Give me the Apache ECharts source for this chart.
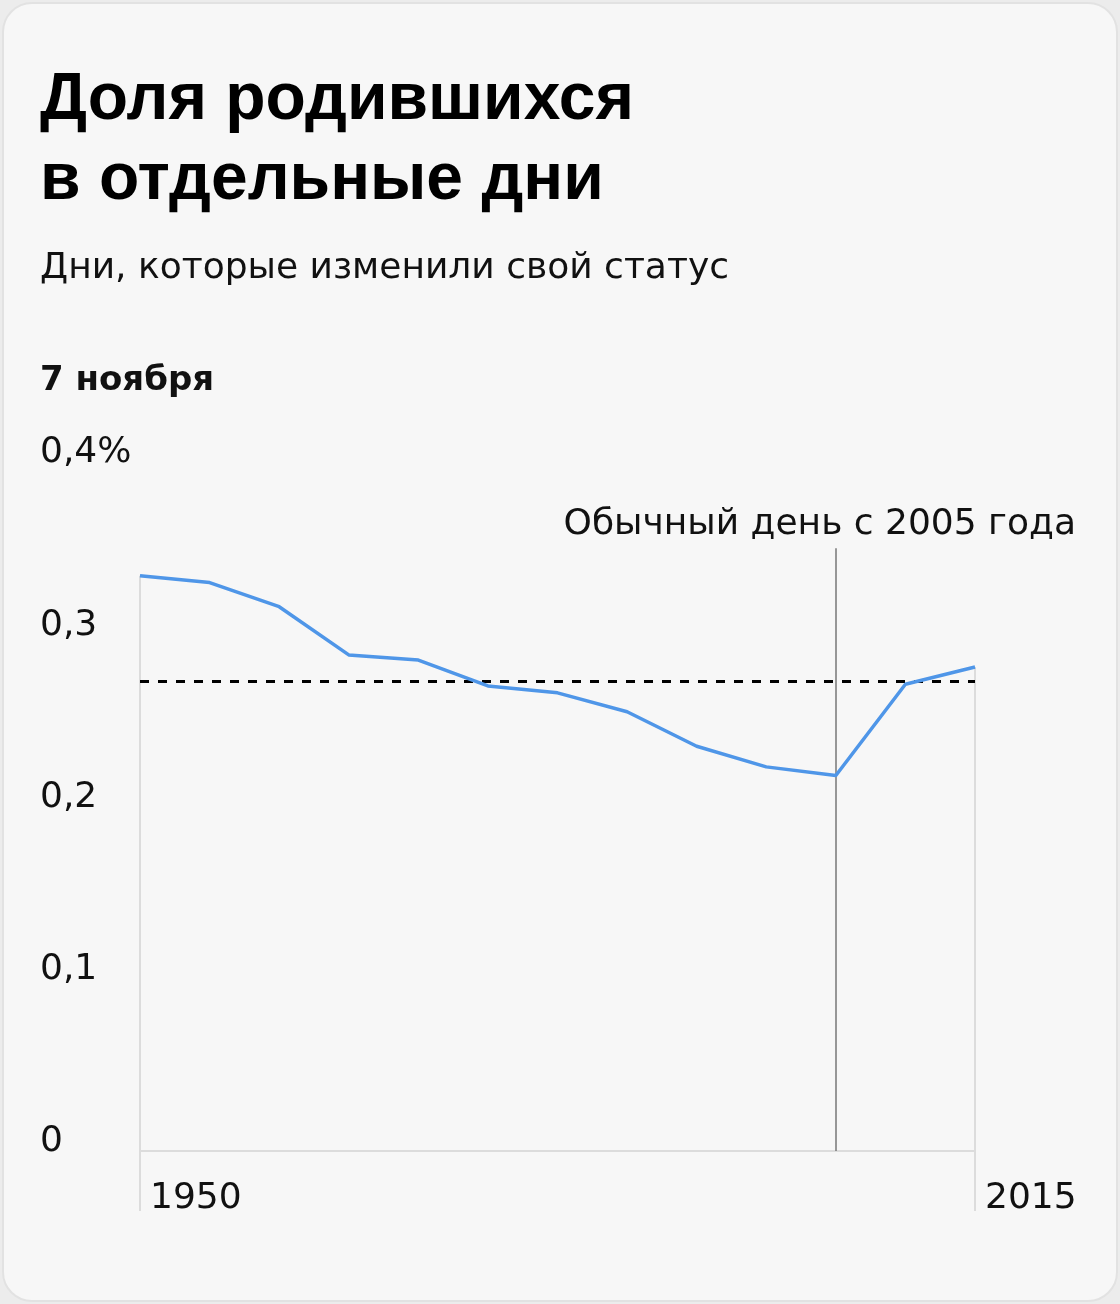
<!DOCTYPE html>
<html><head><meta charset="utf-8">
<script src="https://cdn.jsdelivr.net/npm/echarts@6/dist/echarts.min.js"></script>
<style>
html,body{margin:0;padding:0;background:#ececec;}
#card{position:absolute;left:2px;top:2px;width:1112px;height:1296px;background:#f7f7f7;border:2px solid #e2e2e2;border-radius:30px;overflow:hidden;}
#chart{position:absolute;left:0;top:0;width:1120px;height:1304px;}
</style></head>
<body>
<div id="card"></div>
<div id="chart"></div>
<script>
const years = ['1950','1955','1960','1965','1970','1975','1980','1985','1990','1995','2005','2010','2015'];
const shares = [0.334, 0.330, 0.316, 0.288, 0.285, 0.270, 0.266, 0.255, 0.235, 0.223, 0.218, 0.271, 0.281];
const averageShare = 0.273;
const changeYear = '2005';
const changeLineTop = 0.35;
const yTicks = ['0', '0,1', '0,2', '0,3', '0,4%'];
const titleText = 'Доля родившихся\nв отдельные дни';
const subtitleText = 'Дни, которые изменили свой статус';
const dayLabel = '7 ноября';
const changeLabel = 'Обычный день с 2005 года';

const titleFont = '"Liberation Sans", Arial, sans-serif';
const font = '"DejaVu Sans", sans-serif';
const chart = echarts.init(document.getElementById('chart'), null, {renderer:'canvas'});
const last = years.length - 1;
chart.setOption({
  backgroundColor: 'transparent',
  animation: false,
  grid: {left: 140, right: 145, top: 462, bottom: 153},
  graphic: [
    {type:'text', left: 40, top: 61, style:{text: titleText, font: 'bold 66px ' + titleFont, fill:'#000', lineHeight: 80}},
    {type:'text', left: 40, top: 251, style:{text: subtitleText, font: '36px ' + font, fill:'#111'}},
    {type:'text', left: 40, top: 364, style:{text: dayLabel, font: 'bold 34px ' + font, fill:'#111'}},
    {type:'text', right: 44, top: 507, style:{text: changeLabel, font: '36px ' + font, fill:'#111'}}
  ],
  xAxis: {
    type: 'category', data: years, boundaryGap: false,
    axisLine: {show: true, lineStyle: {color: '#dcdcdc', width: 2}},
    axisTick: {show: true, length: 60, inside: false, interval: (i) => i === 0 || i === last, lineStyle: {color: '#dcdcdc', width: 2}},
    axisLabel: {interval: (i) => i === 0 || i === last, align: 'left', padding: [0,0,0,10], margin: 30,
      fontFamily: font, fontSize: 36, color: '#111'},
    splitLine: {show: false}
  },
  yAxis: {
    type: 'value', min: 0, max: 0.4, interval: 0.1,
    axisLine: {show: false}, axisTick: {show: false}, splitLine: {show: false},
    axisLabel: {align: 'left', margin: 100, verticalAlign: 'bottom', padding: [0,0,-9,0],
      fontFamily: font, fontSize: 36, color: '#111',
      formatter: (v) => yTicks[Math.round(v * 10)]}
  },
  series: [
    {type: 'line', data: shares, symbol: 'none', lineStyle: {color: '#4f96e8', width: 3.5}, z: 5,
      markLine: {symbol: 'none', silent: true, label: {show: false},
        data: [
          [{coord: [years[0], 0], lineStyle: {color: '#dcdcdc', width: 2, type: 'solid'}}, {coord: [years[0], shares[0]]}],
          [{coord: [years[last], 0], lineStyle: {color: '#dcdcdc', width: 2, type: 'solid'}}, {coord: [years[last], shares[last]]}],
          [{coord: [changeYear, 0], lineStyle: {color: '#777', width: 1.5, type: 'solid'}}, {coord: [changeYear, changeLineTop]}],
          [{coord: [years[0], averageShare], lineStyle: {color: '#000', width: 3, type: [9, 9]}}, {coord: [years[last], averageShare]}]
        ]}
    }
  ]
});
</script>
</body></html>
